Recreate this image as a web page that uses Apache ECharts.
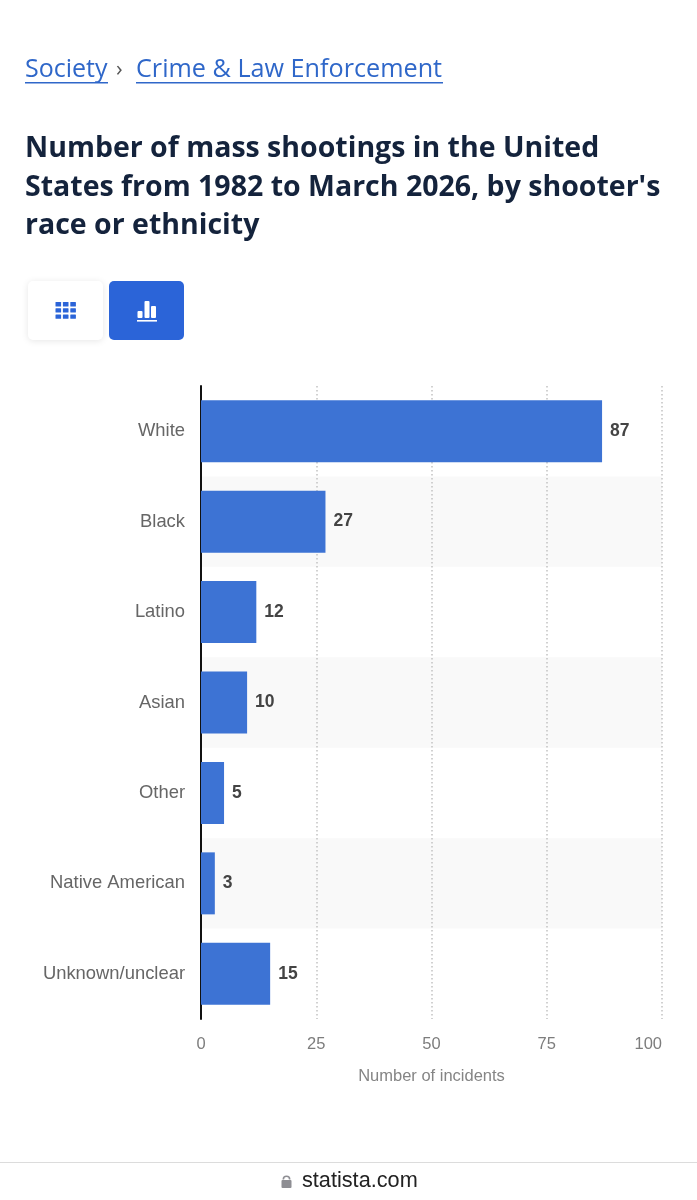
<!DOCTYPE html>
<html>
<head>
<meta charset="utf-8">
<style>html,body{margin:0;padding:0;background:#fff}#chart{width:697px;height:1200px}</style>
<script src="https://cdn.jsdelivr.net/npm/echarts@6/dist/echarts.min.js"></script>
</head>
<body>
<div id="chart"></div>
<script>
// Shooter race or ethnicity and the incident count for each group
const categories = ['White', 'Black', 'Latino', 'Asian', 'Other', 'Native American', 'Unknown/unclear'];
const incidents = [87, 27, 12, 10, 5, 3, 15];
const valueTicks = [0, 25, 50, 75, 100];
const titleLines = ['Number of mass shootings in the United', "States from 1982 to March 2026, by shooter's", 'race or ethnicity'];
const crumbs = ['Society', 'Crime & Law Enforcement'];

const BLUE = '#3d73d4';
const LINK = '#2f67c9';
const ACTIVE = '#2b64d8';
const HEAD_FONT = '"Open Sans", "Noto Sans", sans-serif';
const CHART_FONT = '"Liberation Sans", Arial, sans-serif';

const txt = (x, y, text, size, fill, weight, family) => ({
  type: 'text', x, y,
  style: { text, fontSize: size, fontWeight: weight || 'normal', fontFamily: family || HEAD_FONT, fill, verticalAlign: 'middle' }
});
const box = (x, y, w, h, fill, r, extra) => ({
  type: 'rect', shape: { x, y, width: w, height: h, r: r || 0 }, style: Object.assign({ fill }, extra || {})
});

// Page furniture around the plot: breadcrumb, heading, view toggle, address bar
const furniture = [
  txt(25, 70, crumbs[0], 25, LINK),
  box(25, 82, 83, 1.5, LINK),
  txt(116, 70, '\u203A', 22, '#555'),
  txt(136, 70, crumbs[1], 25.2, LINK),
  box(136, 82, 307, 1.5, LINK),
  ...titleLines.map((line, i) => txt(25, 149 + i * 38.5, line, 28.5, '#14233c', 'bold')),

  box(28, 281, 75, 59, '#fff', 5, { shadowBlur: 7, shadowColor: 'rgba(0,0,0,0.10)', shadowOffsetY: 1 }),
  box(109, 281, 75, 59, ACTIVE, 5)
];
// Table icon on the left toggle
for (let r = 0; r < 3; r++) {
  for (let c = 0; c < 3; c++) {
    furniture.push(box(55.5 + c * 7.4, 302 + r * 6.2, 5.6, 4.4, ACTIVE, 0.5));
  }
}
// Bar icon on the active toggle
furniture.push(
  box(137.5, 311, 5, 7, '#fff', 1),
  box(144.5, 301, 5, 17, '#fff', 1),
  box(151, 306, 5, 12, '#fff', 1),
  box(137, 320, 20, 1.6, '#fff'),
  // Address bar
  box(0, 1162, 697, 1, '#dcdcdc'),
  box(281.5, 1180, 10, 8, '#8e8e93', 1),
  { type: 'arc', shape: { cx: 286.5, cy: 1179.5, r: 3.2, startAngle: Math.PI, endAngle: 0 },
    style: { stroke: '#8e8e93', lineWidth: 1.6, fill: 'none' } },
  txt(302, 1181, 'statista.com', 21.7, '#222', 'normal', CHART_FONT)
);

const chart = echarts.init(document.getElementById('chart'), null, { renderer: 'canvas' });
chart.setOption({
  backgroundColor: '#fff',
  animation: false,
  graphic: { elements: furniture },
  grid: { left: 201, top: 386, width: 461, height: 633, containLabel: false },
  xAxis: {
    type: 'value', min: 0, max: 100, interval: 25,
    axisLine: { show: false }, axisTick: { show: false },
    splitLine: { show: true, lineStyle: { color: '#c2c2c2', type: [1.5, 2.5], width: 1.5 } },
    axisLabel: {
      color: '#7d7d7d', fontSize: 16.5, fontFamily: CHART_FONT, margin: 17,
      alignMaxLabel: 'right',
      customValues: valueTicks
    },
    name: 'Number of incidents', nameLocation: 'middle', nameGap: 49,
    nameTextStyle: { color: '#858585', fontSize: 16.5, fontFamily: CHART_FONT }
  },
  yAxis: {
    type: 'category', inverse: true, data: categories,
    axisLine: { show: true, onZero: false, lineStyle: { color: '#111', width: 2 } },
    axisTick: { show: false },
    splitArea: { show: true, areaStyle: { color: ['rgba(0,0,0,0)', '#f9f9f9'] } },
    axisLabel: { color: '#666', fontSize: 18.4, fontFamily: CHART_FONT, margin: 16, padding: [4, 0, 0, 0] }
  },
  series: [{
    type: 'bar', data: incidents, barWidth: 62,
    itemStyle: { color: BLUE },
    label: {
      show: true, position: 'right', distance: 8, padding: [3, 0, 0, 0],
      color: '#444', fontSize: 17.5, fontWeight: 'bold', fontFamily: CHART_FONT
    }
  }]
});
</script>
</body>
</html>
